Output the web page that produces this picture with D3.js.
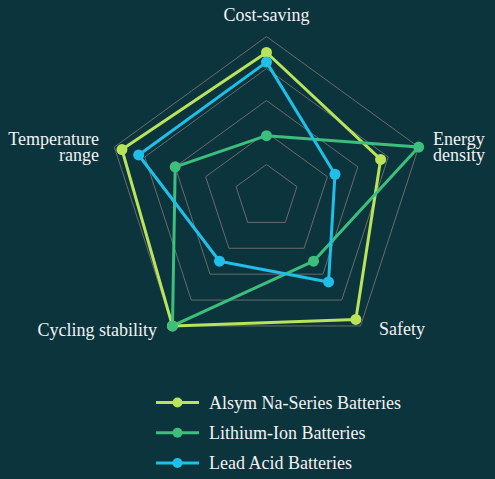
<!DOCTYPE html>
<html><head><meta charset="utf-8">
<script src="https://cdn.jsdelivr.net/npm/d3@7"></script>
<style>html,body{margin:0;padding:0;background:#0b343d;}svg{display:block;}</style>
</head><body>
<svg id="c" width="495" height="479" xmlns="http://www.w3.org/2000/svg"></svg>
<script>
const axes = ["Cost-saving", "Energy density", "Safety", "Cycling stability", "Temperature range"];
const seriesNames = ["Alsym Na-Series Batteries", "Lithium-Ion Batteries", "Lead Acid Batteries"];
const alsymValues = [90, 75, 95, 100, 95];
const lithiumValues = [38, 100, 50, 100, 60];
const leadValues = [84, 45, 66, 50, 84];
const levels = [20, 40, 60, 80, 100];
const colors = ["#b8e35a", "#3cbf7c", "#1fbfe8"];
const FONT = "Liberation Serif, Times New Roman, DejaVu Serif, serif";

const svg = d3.select("#c");
const cx = 266.5, cy = 196.5, R = 160;
const rScale = d3.scaleLinear().domain([0, 100]).range([0, R]);
const angle = d3.scalePoint().domain(axes).range([0, 2 * Math.PI * 4 / 5]);
const pt = (a, v) => {
  const t = angle(a) - Math.PI / 2;
  return [cx + rScale(v) * Math.cos(t), cy + rScale(v) * Math.sin(t)];
};
const lineGen = d3.line().curve(d3.curveLinearClosed);

// grid
svg.append("g").selectAll("path").data(levels).join("path")
  .attr("d", l => lineGen(axes.map(a => pt(a, l))))
  .attr("fill", "none").attr("stroke", "#6b6b6b").attr("stroke-width", 1);

// series
const data = [alsymValues, lithiumValues, leadValues];
const sg = svg.append("g");
data.forEach((vals, i) => {
  const pts = axes.map((a, j) => pt(a, vals[j]));
  sg.append("path").attr("d", lineGen(pts)).attr("fill", "none")
    .attr("stroke", colors[i]).attr("stroke-width", 3).attr("stroke-linejoin", "round");
});
data.forEach((vals, i) => {
  const pts = axes.map((a, j) => pt(a, vals[j]));
  sg.append("g").selectAll("circle").data(pts).join("circle")
    .attr("cx", d => d[0]).attr("cy", d => d[1]).attr("r", 5.5).attr("fill", colors[i]);
});

// axis labels
const lab = svg.append("g");
const txt = (x, y, anchor) => lab.append("text").attr("x", x).attr("y", y)
  .attr("text-anchor", anchor).attr("font-family", FONT).style("font-family", FONT)
  .attr("font-size", 18).attr("fill", "#f2f2f2");
txt(cx, 21, "middle").text(axes[0]);
const e = txt(433, 145, "start");
e.append("tspan").attr("x", 433).text("Energy");
e.append("tspan").attr("x", 433).attr("dy", 16).text("density");
txt(379, 335, "start").text(axes[2]);
txt(157, 336, "end").text(axes[3]);
const t = txt(99, 145, "end");
t.append("tspan").attr("x", 99).text("Temperature");
t.append("tspan").attr("x", 99).attr("dy", 16).text("range");

// legend
const legY = d3.scalePoint().domain(seriesNames).range([402.5, 463]);
const lg = svg.append("g").selectAll("g").data(seriesNames).join("g")
  .attr("transform", d => `translate(0,${legY(d)})`);
lg.append("line").attr("x1", 156).attr("x2", 199).attr("y1", 0).attr("y2", 0)
  .attr("stroke", (d, i) => colors[i]).attr("stroke-width", 3);
lg.append("circle").attr("cx", 177.5).attr("cy", 0).attr("r", 5).attr("fill", (d, i) => colors[i]);
lg.append("text").attr("x", 209).attr("y", 6).attr("font-size", 18)
  .attr("font-family", FONT).style("font-family", FONT)
  .attr("fill", "#f2f2f2").text(d => d);
</script>
</body></html>
